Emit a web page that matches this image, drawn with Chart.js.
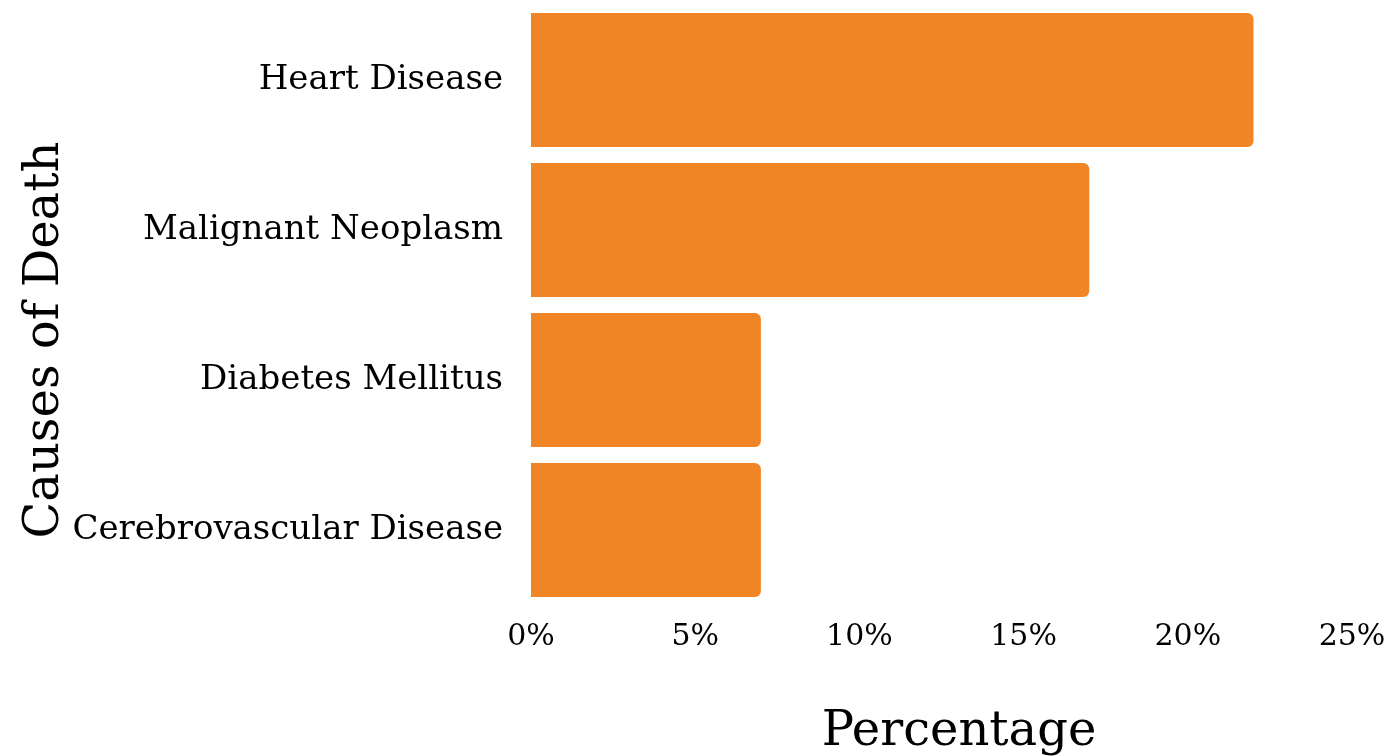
<!DOCTYPE html>
<html>
<head>
<meta charset="utf-8">
<script src="https://cdn.jsdelivr.net/npm/chart.js@4/dist/chart.umd.min.js"></script>
<style>
  html, body { margin: 0; padding: 0; background: #fff; }
  #wrap { width: 1394px; height: 756px; }
</style>
</head>
<body>
<div id="wrap"><canvas id="chart"></canvas></div>
<script>
const causes = ['Heart Disease', 'Malignant Neoplasm', 'Diabetes Mellitus', 'Cerebrovascular Disease'];
const percentages = [22, 17, 7, 7];
const xTicks = [0, 5, 10, 15, 20, 25];
const xTitle = 'Percentage';
const yTitle = 'Causes of Death';

const serif = '"DejaVu Serif", Georgia, serif';

// axis titles drawn by hand so they can sit where the original put them
const axisTitles = {
    id: 'axisTitles',
    afterDraw(chart) {
        const c = chart.ctx;
        c.save();
        c.fillStyle = '#000';
        c.font = '48px ' + serif;
        c.textAlign = 'center';
        c.textBaseline = 'middle';
        c.fillText(xTitle, 959, 733);
        c.translate(46, 340);
        c.rotate(-Math.PI / 2);
        c.fillText(yTitle, 0, 0);
        c.restore();
    }
};

const ctx = document.getElementById('chart').getContext('2d');
new Chart(ctx, {
    type: 'bar',
    data: {
        labels: causes,
        datasets: [{
            label: 'Percentage',
            data: percentages,
            backgroundColor: '#f08526',
            borderRadius: 6,
            borderSkipped: 'start',
            categoryPercentage: 1,
            barPercentage: 0.893
        }]
    },
    options: {
        indexAxis: 'y',
        responsive: true,
        maintainAspectRatio: false,
        animation: false,
        layout: { padding: { top: 5, right: 42, left: 0 } },
        plugins: {
            legend: { display: false },
            tooltip: { enabled: false }
        },
        scales: {
            x: {
                min: 0,
                max: 25,
                grid: { display: false, drawTicks: false },
                border: { display: false },
                afterBuildTicks: function(scale) {
                    scale.ticks = xTicks.map(v => ({ value: v }));
                },
                afterFit: function(scale) {
                    scale.height = 151;
                    scale.paddingLeft = 0;
                    scale.paddingRight = 0;
                },
                ticks: {
                    color: '#000',
                    padding: 14,
                    font: { family: serif, size: 30 },
                    callback: v => v + '%'
                }
            },
            y: {
                grid: { display: false, drawTicks: false },
                border: { display: false },
                afterFit: function(scale) {
                    scale.width = 531;
                    scale.paddingTop = 0;
                    scale.paddingBottom = 0;
                },
                ticks: {
                    color: '#000',
                    padding: 28,
                    font: { family: serif, size: 34 }
                }
            }
        }
    },
    plugins: [axisTitles]
});
</script>
</body>
</html>
